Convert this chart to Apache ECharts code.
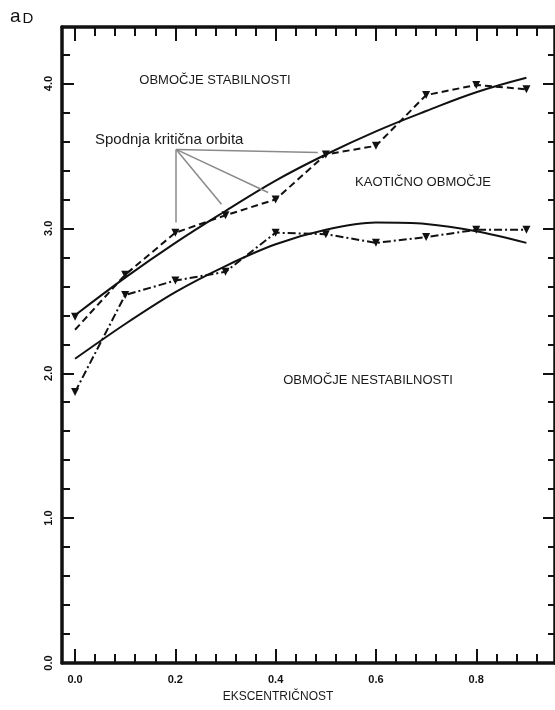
<!DOCTYPE html>
<html>
<head>
<meta charset="utf-8">
<script src="https://cdn.jsdelivr.net/npm/echarts@6/dist/echarts.min.js"></script>
<style>
html,body{margin:0;padding:0;background:#fff;}
#chart{width:555px;height:710px;}
</style>
</head>
<body>
<div id="chart"></div>
<script>
// ---- data ----
var xValues      = [0.0, 0.1, 0.2, 0.3, 0.4, 0.5, 0.6, 0.7, 0.8, 0.9];
var dashedVals   = [2.30, 2.68, 2.97, 3.09, 3.20, 3.51, 3.57, 3.92, 3.99, 3.96];
var dashDotVals  = [1.87, 2.54, 2.64, 2.70, 2.97, 2.96, 2.90, 2.94, 2.99, 2.99];
var upperFitVals = [2.40, 2.66, 2.90, 3.12, 3.33, 3.51, 3.67, 3.81, 3.94, 4.04];
var lowerFitVals = [2.10, 2.34, 2.56, 2.74, 2.89, 2.99, 3.04, 3.03, 2.98, 2.90];
var startMarker  = [[0.0, 2.39]];

var xMajorTicks = [0.0, 0.2, 0.4, 0.6, 0.8];
var xMinorTicks = [0.04, 0.08, 0.12, 0.16, 0.24, 0.28, 0.32, 0.36, 0.44, 0.48, 0.52, 0.56, 0.64, 0.68, 0.72, 0.76, 0.84, 0.88, 0.92];
var yMajorTicks = [0.0, 1.0, 2.0, 3.0, 4.0];
var yMinorTicks = [0.2, 0.4, 0.6, 0.8, 1.2, 1.4, 1.6, 1.8, 2.2, 2.4, 2.6, 2.8, 3.2, 3.4, 3.6, 3.8, 4.2];

var xAxisTitle = 'EKSCENTRIČNOST';
var yAxisTitleMain = 'a';
var yAxisTitleSub = 'D';
var regionLabels = ['OBMOČJE STABILNOSTI', 'KAOTIČNO OBMOČJE', 'OBMOČJE NESTABILNOSTI'];
var calloutLabel = 'Spodnja kritična orbita';

function pairs(xs, ys) { return xs.map(function (x, i) { return [x, ys[i]]; }); }

var chart = echarts.init(document.getElementById('chart'), null, {renderer: 'canvas'});

var XMIN = -0.026, XMAX = 0.957, YMIN = 0, YMAX = 4.39;
var BLACK = '#111';
var FONT = 'Liberation Sans';

function xAx(pos, ticks, len, label, showLine) {
  return {
    type: 'value', position: pos, min: XMIN, max: XMAX,
    axisLine: {show: showLine, onZero: false, lineStyle: {color: BLACK, width: 3.5}},
    axisTick: {show: true, inside: true, length: len, customValues: ticks, lineStyle: {color: BLACK, width: 2}},
    axisLabel: label ? {show: true, customValues: ticks, margin: 11, color: BLACK, fontFamily: FONT, fontWeight: 'bold', fontSize: 11,
      formatter: function (v) { return v.toFixed(1); }} : {show: false},
    splitLine: {show: false}
  };
}
function yAx(pos, ticks, len, label, showLine) {
  return {
    type: 'value', position: pos, min: YMIN, max: YMAX,
    axisLine: {show: showLine, onZero: false, lineStyle: {color: BLACK, width: 3.5}},
    axisTick: {show: true, inside: true, length: len, customValues: ticks, lineStyle: {color: BLACK, width: 2}},
    axisLabel: label ? {show: true, customValues: ticks, rotate: 90, margin: 8, color: BLACK, fontFamily: FONT, fontWeight: 'bold', fontSize: 11,
      formatter: function (v) { return v.toFixed(1); }} : {show: false},
    splitLine: {show: false}
  };
}

var tri = {symbol: 'triangle', symbolSize: 8, symbolRotate: 180};

var option = {
  animation: false,
  backgroundColor: '#fff',
  grid: {left: 62, top: 27, right: -4, bottom: 47, containLabel: false},
  xAxis: [
    xAx('bottom', xMajorTicks, 14, true, true),
    xAx('bottom', xMinorTicks, 9, false, false),
    xAx('top', xMajorTicks, 14, false, true),
    xAx('top', xMinorTicks, 9, false, false)
  ],
  yAxis: [
    yAx('left', yMajorTicks, 12, true, true),
    yAx('left', yMinorTicks, 8, false, false),
    yAx('right', yMajorTicks, 12, false, true),
    yAx('right', yMinorTicks, 7, false, false)
  ],
  series: [
    {type: 'line', name: 'upperFit', data: pairs(xValues, upperFitVals), smooth: 0.4, showSymbol: false, symbol: 'none',
      lineStyle: {color: BLACK, width: 2}, z: 3},
    {type: 'line', name: 'lowerFit', data: pairs(xValues, lowerFitVals), smooth: 0.3, showSymbol: false, symbol: 'none',
      lineStyle: {color: BLACK, width: 2}, z: 3},
    {type: 'line', name: 'dashed', data: pairs(xValues, dashedVals).map(function (p, i) {
        return i === 0 ? {value: p, symbol: 'none'} : p; }),
      symbol: tri.symbol, symbolSize: tri.symbolSize, symbolRotate: tri.symbolRotate,
      itemStyle: {color: BLACK}, lineStyle: {color: BLACK, width: 2, type: [7, 4]}, z: 4},
    {type: 'line', name: 'dashDot', data: pairs(xValues, dashDotVals),
      symbol: tri.symbol, symbolSize: tri.symbolSize, symbolRotate: tri.symbolRotate,
      itemStyle: {color: BLACK}, lineStyle: {color: BLACK, width: 2, type: [8, 3, 2, 3]}, z: 4},
    {type: 'scatter', name: 'start', data: startMarker,
      symbol: tri.symbol, symbolSize: tri.symbolSize, symbolRotate: tri.symbolRotate,
      itemStyle: {color: BLACK, opacity: 1}, z: 5,
      markLine: {
        silent: true, symbol: ['none', 'none'], label: {show: false},
        lineStyle: {color: '#8a8a8a', width: 1.5, type: 'solid'},
        data: [
          [{coord: [0.2016, 3.545]}, {coord: [0.2016, 3.04]}],
          [{coord: [0.2016, 3.545]}, {coord: [0.292, 3.166]}],
          [{coord: [0.2016, 3.545]}, {coord: [0.385, 3.248]}],
          [{coord: [0.2016, 3.545]}, {coord: [0.484, 3.524]}]
        ]
      }}
  ],
  graphic: [
    {type: 'text', left: 10, top: 7, style: {
      text: '{a|' + yAxisTitleMain + '}{d|' + yAxisTitleSub + '}',
      rich: {a: {fontSize: 19, fontFamily: FONT, fill: BLACK, verticalAlign: 'bottom'},
             d: {fontSize: 15, fontFamily: FONT, fill: BLACK, padding: [9, 0, 0, 2]}}}},
    {type: 'text', x: 215, y: 80, style: {text: regionLabels[0], font: '13px "Liberation Sans"', fill: '#1a1a1a', align: 'center', verticalAlign: 'middle'}},
    {type: 'text', x: 423, y: 182, style: {text: regionLabels[1], font: '13px "Liberation Sans"', fill: '#1a1a1a', align: 'center', verticalAlign: 'middle'}},
    {type: 'text', x: 368, y: 380, style: {text: regionLabels[2], font: '13px "Liberation Sans"', fill: '#1a1a1a', align: 'center', verticalAlign: 'middle'}},
    {type: 'text', x: 95, y: 140, style: {text: calloutLabel, font: '15px "Liberation Sans"', fill: '#1a1a1a', align: 'left', verticalAlign: 'middle'}},
    {type: 'text', x: 278, y: 697, style: {text: xAxisTitle, font: '12px "Liberation Sans"', fill: '#1a1a1a', align: 'center', verticalAlign: 'middle'}}
  ]
};
chart.setOption(option);
</script>
</body>
</html>
